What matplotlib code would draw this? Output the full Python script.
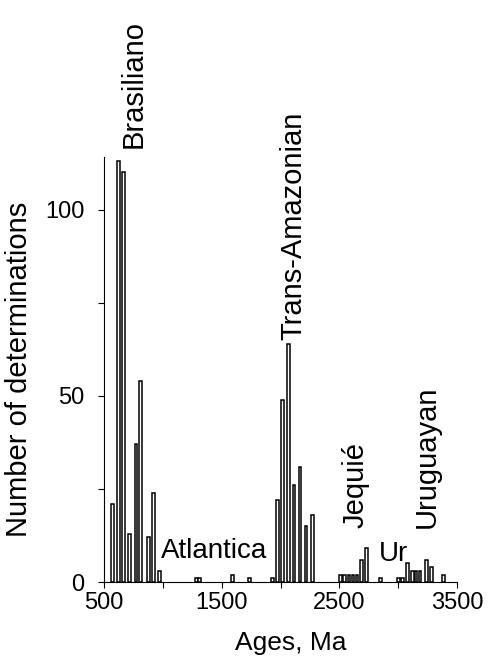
import numpy as np
import matplotlib
matplotlib.use("Agg")
import matplotlib.pyplot as plt

'''
DATI: eta' (Ma) e numero di determinazioni
'''
ages = [575, 625, 665, 720, 772, 812, 877, 919, 970,
        1285, 1315, 1595, 1735, 1930,
        1973, 2015, 2066, 2115, 2166, 2217, 2274,
        2508, 2545, 2582, 2616, 2650, 2690, 2729,
        2851, 3001, 3040, 3077, 3123, 3151, 3185, 3242, 3285, 3384]
counts = [21, 113, 110, 13, 37, 54, 12, 24, 3,
          1, 1, 2, 1, 1,
          22, 49, 64, 26, 31, 15, 18,
          2, 2, 2, 2, 2, 6, 9,
          1, 1, 1, 5, 3, 3, 3, 6, 4, 2]

# etichette degli eventi: (testo, eta', y, rotazione)
event_names = ["Brasiliano", "Trans-Amazonian", "Atlantica", "Jequié", "Ur", "Uruguayan"]
event_x = [748, 2110, 985, 2641, 2964, 3242]
event_y = [116.5, 65, 8.3, 14.4, 7.5, 14.4]
event_rot = [90, 90, 0, 90, 0, 90]

xticks = [500, 1500, 2500, 3500]
yticks = [0, 50, 100]

plt.rcParams['font.family'] = ['Liberation Sans', 'DejaVu Sans']

fig = plt.figure(figsize=(4.91, 6.56), dpi=100)
ax = fig.add_axes([0.2118, 0.1128, 0.7190, 0.6472])

ax.bar(ages, counts, width=24, facecolor='white', edgecolor='black', linewidth=1.1)

for name, x, y, r in zip(event_names, event_x, event_y, event_rot):
    if r == 90:
        ax.text(x, y, name, rotation=90, ha='center', va='bottom', fontsize=21, clip_on=False)
    else:
        ax.text(x, y, name, ha='left' if name == "Atlantica" else 'center', va='center',
                fontsize=20, clip_on=False)

ax.set_xlim(500, 3500)
ax.set_ylim(0, 114)
ax.set_xticks(xticks)
ax.set_xticks(np.arange(500, 3501, 500), minor=True)
ax.set_yticks(yticks)
ax.set_yticks([25, 75], minor=True)
ax.tick_params(axis='both', which='both', direction='out', length=4, width=0.8, labelsize=17)
ax.tick_params(axis='x', pad=3)
ax.tick_params(axis='y', pad=10)

for s in ['top', 'right']:
    ax.spines[s].set_visible(False)
for s in ['left', 'bottom']:
    ax.spines[s].set_linewidth(0.8)

ax.set_xlabel('Ages, Ma', fontsize=19, labelpad=4)
ax.xaxis.set_label_coords(0.53, -0.115)
ax.set_ylabel('Number of determinations', fontsize=21)
ax.yaxis.set_label_coords(-0.2, 0.5)

plt.savefig("out.png", dpi=100)
